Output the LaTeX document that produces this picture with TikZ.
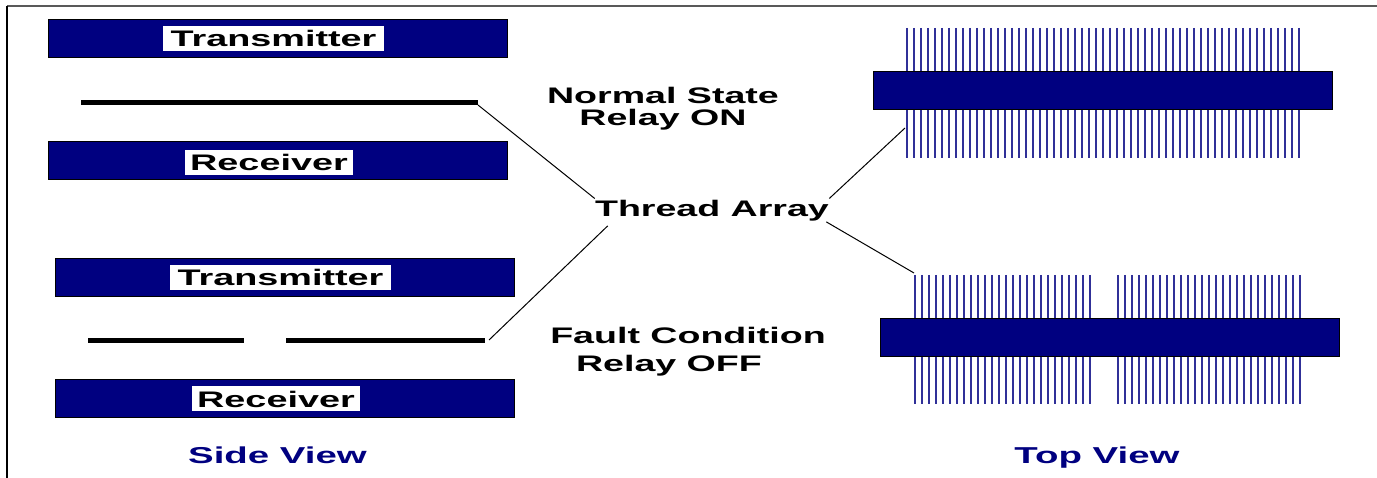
\documentclass[tikz,border=0pt]{standalone}
\usepackage{fontspec}
\setmainfont{Liberation Sans}
\usetikzlibrary{positioning}
\definecolor{barblue}{RGB}{0,0,128}
\definecolor{threadblue}{RGB}{48,48,152}
\tikzset{
	bar/.style={draw=black, line width=1pt, fill=barblue, minimum width=459pt, minimum height=38pt, inner sep=0pt},
	barlabel/.style={fill=white, inner sep=0pt, text height=17pt, text depth=0pt, minimum height=25pt, font=\bfseries\fontsize{22.5}{24}\selectfont, xscale=1.68},
	caption/.style={anchor=base, inner sep=0pt, font=\bfseries\fontsize{22.5}{24}\selectfont, xscale=1.67},
	viewlabel/.style={caption, text=barblue, font=\bfseries\fontsize{23}{23}\selectfont},
	thread/.style={threadblue, line width=2.4pt},
	fibre/.style={black, line width=5.5pt},
	link/.style={black, line width=1pt}
}
\begin{document}
\begin{tikzpicture}[x=1pt, y=-1pt]
	\useasboundingbox (0,0) rectangle (1377,478);
	% page frame
	\draw[gray!70!black, line width=1.5pt] (7,6) -- (1377,6);
	\draw[black, line width=2pt] (7,6) -- (7,478);

	% threads in top view
	\foreach \x in {0,...,56} {
		\draw[thread] (907+7*\x,28) -- (907+7*\x,71);
		\draw[thread] (907+7*\x,110) -- (907+7*\x,158);
	}
	\foreach \x in {0,...,25} {
		\draw[thread] (915+7*\x,275) -- (915+7*\x,318);
		\draw[thread] (915+7*\x,357) -- (915+7*\x,404);
	}
	\foreach \x in {0,...,26} {
		\draw[thread] (1118+7*\x,275) -- (1118+7*\x,318);
		\draw[thread] (1118+7*\x,357) -- (1118+7*\x,404);
	}

	% bars
	\node[bar] (txon) at (278,39) {};
	\node[bar] (rxon) at (278,160.5) {};
	\node[bar] (txoff) at (285,277.5) {};
	\node[bar] (rxoff) at (285,398.5) {};
	\node[bar] (topon) at (1103,90.5) {};
	\node[bar] (topoff) at (1110,337.5) {};

	\node[barlabel, minimum width=131.5pt] (txonlabel) at (273.5,38.5) {Transmitter};
	\node[barlabel, minimum width=100pt] (rxonlabel) at (269,162.5) {Receiver};
	\node[barlabel, minimum width=131.5pt] (txofflabel) at (280.5,277.5) {Transmitter};
	\node[barlabel, minimum width=100pt] (rxofflabel) at (276,398.5) {Receiver};

	% fibres in side view
	\draw[fibre] (81,102.5) -- (478,102.5);
	\draw[fibre] (88,340.5) -- (244,340.5);
	\draw[fibre] (286,340.5) -- (485,340.5);

	% texts
	\node[caption] (normal) at (663,104) {Normal State};
	\node[caption] (relayon) at (663,126) {Relay ON};
	\node[caption] (fault) at (688,344) {Fault Condition};
	\node[caption] (relayoff) at (669,372) {Relay OFF};
	\node[caption] (array) at (712,217) {Thread Array};
	\node[viewlabel] (side) at (277.5,463) {Side View};
	\node[viewlabel] (top) at (1097,463) {Top View};

	% connectors
	\coordinate (fibreon) at (478,105);
	\coordinate (fibreoff) at (489,340);
	\coordinate (threadon) at (905,128);
	\coordinate (threadoff) at (914,273);
	\draw[link] (fibreon) -- ([yshift=2pt]array.north west);
	\draw[link] (fibreoff) -- ([xshift=13pt,yshift=-4pt]array.south west);
	\draw[link] (threadon) -- ([yshift=2pt]array.north east);
	\draw[link] (threadoff) -- ([xshift=-3pt]array.south east);
\end{tikzpicture}
\end{document}
